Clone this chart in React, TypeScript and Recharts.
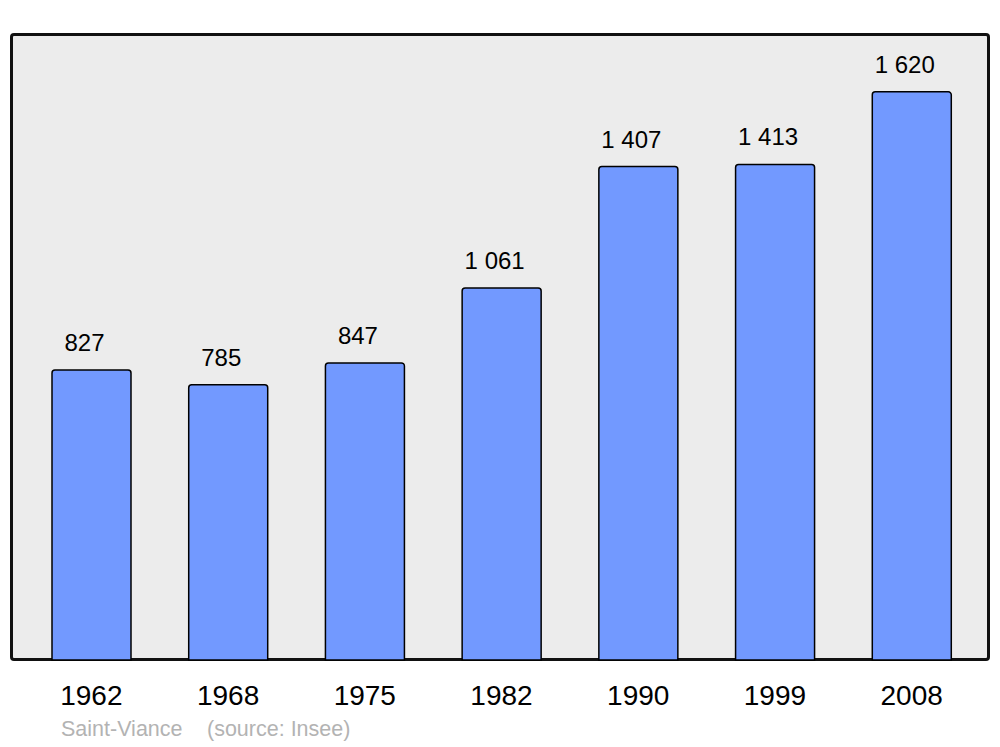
import { Bar, BarChart, LabelList, XAxis, YAxis } from "recharts";

const years = ["1962", "1968", "1975", "1982", "1990", "1999", "2008"];
const population = [827, 785, 847, 1061, 1407, 1413, 1620];

const data = years.map((year, i) => ({ year, population: population[i] }));

const font = "'Liberation Sans', Arial, sans-serif";

const fmt = (v: number) => String(v).replace(/\B(?=(\d{3})+(?!\d))/g, " ");

function ValueLabel(props: any) {
  const { x, y, width, value } = props;
  return (
    <text
      x={Number(x) + Number(width) / 2 - 7}
      y={Number(y) - 19}
      textAnchor="middle"
      fontSize={24}
      fontFamily={font}
      fill="#000"
    >
      {fmt(Number(value))}
    </text>
  );
}

export default function App() {
  return (
    <div style={{ position: "absolute", left: 0, top: 0, width: 1000, height: 747, background: "#fff" }}>
      {/* plot frame */}
      <div
        style={{
          position: "absolute",
          left: 10,
          top: 33,
          width: 974,
          height: 622,
          border: "3px solid #111",
          borderRadius: 4,
          background: "#ececec",
        }}
      />
      <div style={{ position: "absolute", left: 0, top: 0 }}>
        <BarChart width={1000} height={747} data={data} margin={{ top: 34, left: 11, right: 11, bottom: 47 }}>
          <XAxis
            dataKey="year"
            height={40}
            axisLine={false}
            tickLine={false}
            tickMargin={19}
            padding={{ left: 12, right: 9 }}
            tick={{ fontSize: 28, fill: "#000", fontFamily: font }}
            interval={0}
          />
          <YAxis hide domain={[0, 1785]} />
          <Bar
            dataKey="population"
            fill="#7299FF"
            stroke="#000"
            strokeWidth={1.5}
            barSize={79}
            radius={[3, 3, 0, 0]}
            isAnimationActive={false}
          >
            <LabelList dataKey="population" content={ValueLabel} />
          </Bar>
        </BarChart>
      </div>
      <div
        style={{
          position: "absolute",
          left: 61,
          top: 717,
          fontFamily: font,
          fontSize: 21.5,
          color: "#b3b3b3",
          whiteSpace: "pre",
          lineHeight: "25px",
        }}
      >
        <span>Saint-Viance</span>
        <span style={{ position: "absolute", left: 146 }}>(source: Insee)</span>
      </div>
    </div>
  );
}
